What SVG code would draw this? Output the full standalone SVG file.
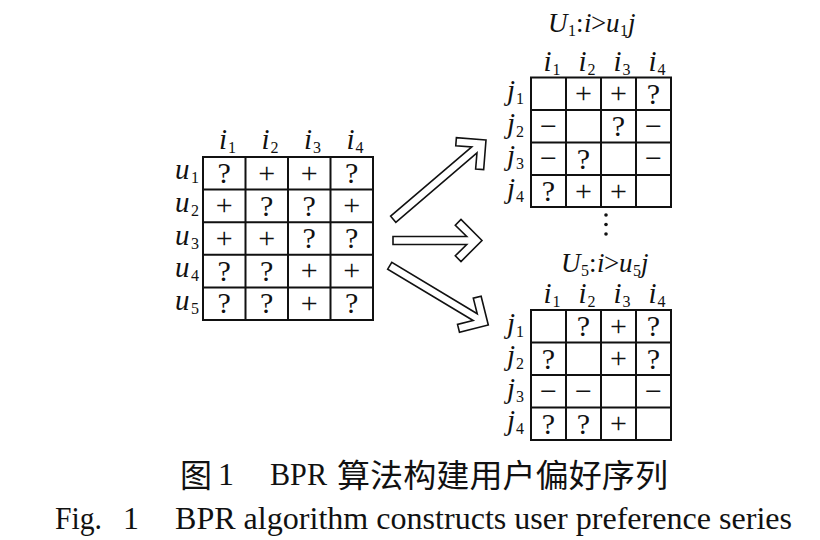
<svg xmlns="http://www.w3.org/2000/svg" width="820" height="540" viewBox="0 0 820 540">
<style>
.bg{fill:#fff}
.grid{fill:none;stroke:#111;stroke-width:2}
.sym{font-family:"Liberation Serif",serif;font-size:30px;text-anchor:middle;fill:#111}
.it{font-family:"Liberation Serif",serif;font-style:italic;font-size:29px;fill:#111}
.sub{font-family:"Liberation Serif",serif;font-size:16px;fill:#111}
.ttl{font-family:"Liberation Serif",serif;font-size:27px;fill:#111}
.arrow{fill:#fff;stroke:#111;stroke-width:1.6;stroke-linejoin:miter}
.cap{font-family:"Liberation Serif","Noto Sans CJK SC",serif;font-size:32px;fill:#111}
.cjk{font-family:"Noto Sans CJK SC",sans-serif;font-size:32px;fill:#111}
</style>
<rect class="bg" x="0" y="0" width="820" height="540"/>

<g id="matrix-left">
  <rect class="grid" x="203" y="157" width="170" height="163"/>
  <path class="grid" d="M245.5,157V320M288,157V320M330.5,157V320M203,189.6H373M203,222.2H373M203,254.8H373M203,287.4H373"/>
  <text class="it" x="219" y="149">i</text><text class="sub" x="228" y="153">1</text>
  <text class="it" x="261.5" y="149">i</text><text class="sub" x="270.5" y="153">2</text>
  <text class="it" x="304" y="149">i</text><text class="sub" x="313" y="153">3</text>
  <text class="it" x="346.5" y="149">i</text><text class="sub" x="355.5" y="153">4</text>
  <text class="it" x="175" y="179">u</text><text class="sub" x="191" y="183">1</text>
  <text class="it" x="175" y="212">u</text><text class="sub" x="191" y="216">2</text>
  <text class="it" x="175" y="244.5">u</text><text class="sub" x="191" y="248.5">3</text>
  <text class="it" x="175" y="277">u</text><text class="sub" x="191" y="281">4</text>
  <text class="it" x="175" y="309.5">u</text><text class="sub" x="191" y="313.5">5</text>
  <g class="sym">
    <text x="224.25" y="183">?</text><text x="266.75" y="182.5">+</text><text x="309.25" y="182.5">+</text><text x="351.75" y="183">?</text>
    <text x="224.25" y="215">+</text><text x="266.75" y="215.5">?</text><text x="309.25" y="215.5">?</text><text x="351.75" y="215">+</text>
    <text x="224.25" y="247.5">+</text><text x="266.75" y="247.5">+</text><text x="309.25" y="248">?</text><text x="351.75" y="248">?</text>
    <text x="224.25" y="280.5">?</text><text x="266.75" y="280.5">?</text><text x="309.25" y="280">+</text><text x="351.75" y="280">+</text>
    <text x="224.25" y="313">?</text><text x="266.75" y="313">?</text><text x="309.25" y="312.5">+</text><text x="351.75" y="313">?</text>
  </g>
</g>

<g id="matrix-u1">
  <text class="ttl" y="32"><tspan x="548" font-style="italic">U</tspan><tspan class="sub" x="568" y="36">1</tspan><tspan x="576" y="32">:</tspan><tspan x="584" font-style="italic">i</tspan><tspan x="591">&gt;</tspan><tspan x="606" font-style="italic">u</tspan><tspan class="sub" x="620" y="36">1</tspan><tspan x="628" y="32" font-style="italic">j</tspan></text>
  <rect class="grid" x="531" y="77.5" width="140" height="129.5"/>
  <path class="grid" d="M566,77.5V207M601,77.5V207M636,77.5V207M531,110H671M531,142.5H671M531,175H671"/>
  <text class="it" x="543.5" y="71">i</text><text class="sub" x="552.5" y="75">1</text>
  <text class="it" x="578.5" y="71">i</text><text class="sub" x="587.5" y="75">2</text>
  <text class="it" x="613.5" y="71">i</text><text class="sub" x="622.5" y="75">3</text>
  <text class="it" x="648.5" y="71">i</text><text class="sub" x="657.5" y="75">4</text>
  <text class="it" x="507" y="100">j</text><text class="sub" x="516" y="104">1</text>
  <text class="it" x="507" y="132.5">j</text><text class="sub" x="516" y="136.5">2</text>
  <text class="it" x="507" y="165">j</text><text class="sub" x="516" y="169">3</text>
  <text class="it" x="507" y="197.5">j</text><text class="sub" x="516" y="201.5">4</text>
  <g class="sym">
    <text x="583.5" y="103">+</text><text x="618.5" y="103">+</text><text x="653.5" y="103.5">?</text>
    <text x="548.5" y="135.5">−</text><text x="618.5" y="136">?</text><text x="653.5" y="135.5">−</text>
    <text x="548.5" y="168">−</text><text x="583.5" y="168.5">?</text><text x="653.5" y="168">−</text>
    <text x="548.5" y="201">?</text><text x="583.5" y="200.5">+</text><text x="618.5" y="200.5">+</text>
  </g>
</g>

<g id="ellipsis">
  <circle cx="606" cy="215" r="1.8" fill="#111"/>
  <circle cx="606" cy="224.5" r="1.8" fill="#111"/>
  <circle cx="606" cy="234" r="1.8" fill="#111"/>
</g>

<g id="matrix-u5">
  <text class="ttl" y="272"><tspan x="561" font-style="italic">U</tspan><tspan class="sub" x="581" y="276">5</tspan><tspan x="589" y="272">:</tspan><tspan x="597" font-style="italic">i</tspan><tspan x="604">&gt;</tspan><tspan x="619" font-style="italic">u</tspan><tspan class="sub" x="633" y="276">5</tspan><tspan x="641" y="272" font-style="italic">j</tspan></text>
  <rect class="grid" x="531" y="310" width="140" height="130"/>
  <path class="grid" d="M566,310V440M601,310V440M636,310V440M531,342.5H671M531,375H671M531,407.5H671"/>
  <text class="it" x="543.5" y="303">i</text><text class="sub" x="552.5" y="307">1</text>
  <text class="it" x="578.5" y="303">i</text><text class="sub" x="587.5" y="307">2</text>
  <text class="it" x="613.5" y="303">i</text><text class="sub" x="622.5" y="307">3</text>
  <text class="it" x="648.5" y="303">i</text><text class="sub" x="657.5" y="307">4</text>
  <text class="it" x="507" y="332.5">j</text><text class="sub" x="516" y="336.5">1</text>
  <text class="it" x="507" y="365">j</text><text class="sub" x="516" y="369">2</text>
  <text class="it" x="507" y="397.5">j</text><text class="sub" x="516" y="401.5">3</text>
  <text class="it" x="507" y="430">j</text><text class="sub" x="516" y="434">4</text>
  <g class="sym">
    <text x="583.5" y="336">?</text><text x="618.5" y="335.5">+</text><text x="653.5" y="336">?</text>
    <text x="548.5" y="368.5">?</text><text x="618.5" y="368">+</text><text x="653.5" y="368.5">?</text>
    <text x="548.5" y="400.5">−</text><text x="583.5" y="400.5">−</text><text x="653.5" y="400.5">−</text>
    <text x="548.5" y="433.5">?</text><text x="583.5" y="433.5">?</text><text x="618.5" y="433">+</text>
  </g>
</g>

<g id="connectors">
  <path class="arrow" transform="translate(486,140) rotate(-40.5)" d="M0,0L-21,-21L-26.7,-15.3L-15.3,-4L-122,-4L-122,4L-15.3,4L-26.7,15.3L-21,21Z"/>
  <path class="arrow" transform="translate(482,240.5)" d="M0,0L-21,-21L-26.7,-15.3L-15.3,-4L-89,-4L-89,4L-15.3,4L-26.7,15.3L-21,21Z"/>
  <path class="arrow" transform="translate(488.3,325) rotate(31)" d="M0,0L-21,-21L-26.7,-15.3L-15.3,-4L-115,-4L-115,4L-15.3,4L-26.7,15.3L-21,21Z"/>
</g>

<g id="caption">
  <text class="cjk" x="180" y="487">图</text>
  <text class="cap" x="218" y="485">1</text>
  <text class="cap" x="270" y="485" textLength="57" lengthAdjust="spacingAndGlyphs">BPR</text>
  <text class="cjk" x="337" y="487" textLength="331" lengthAdjust="spacingAndGlyphs">算法构建用户偏好序列</text>
  <text class="cap" x="55" y="529" textLength="47" lengthAdjust="spacingAndGlyphs">Fig.</text>
  <text class="cap" x="123" y="529">1</text>
  <text class="cap" x="175" y="529" textLength="617" lengthAdjust="spacingAndGlyphs">BPR algorithm constructs user preference series</text>
</g>
</svg>
